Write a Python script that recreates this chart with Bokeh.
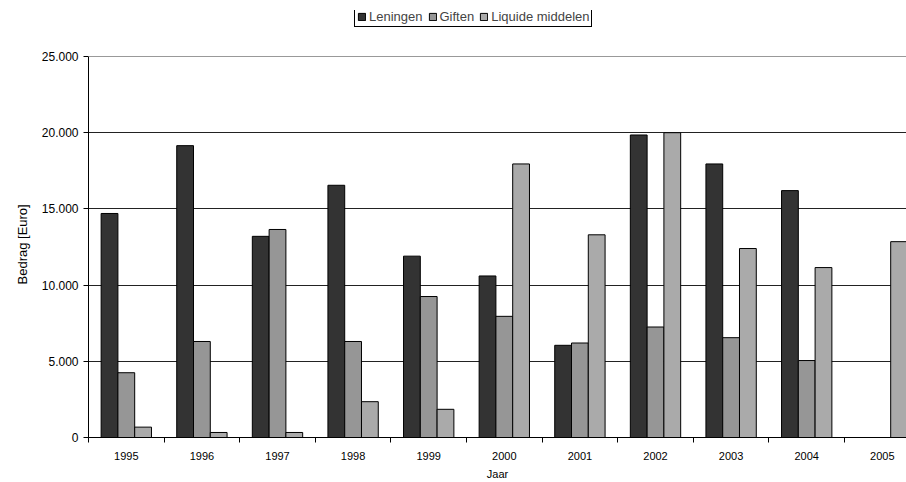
from bokeh.plotting import figure
from bokeh.models import Range1d, FixedTicker, Span, Legend, LegendItem, Title
from bokeh.embed import file_html
from bokeh.resources import INLINE

years = ['1995', '1996', '1997', '1998', '1999', '2000', '2001', '2002', '2003', '2004', '2005']
leningen = [14700, 19150, 13200, 16550, 11900, 10600, 6050, 19850, 17950, 16200, 0]
giften = [4250, 6300, 13650, 6300, 9250, 7950, 6200, 7250, 6550, 5050, 0]
liquide = [680, 330, 330, 2350, 1850, 17950, 13300, 20000, 12400, 11150, 12850]
series_names = ['Leningen', 'Giften', 'Liquide middelen']
y_ticks = [0, 5000, 10000, 15000, 20000, 25000]
y_tick_labels = ['0', '5.000', '10.000', '15.000', '20.000', '25.000']

colors = ['#333333', '#969696', '#aaaaaa']
FONT = 'Liberation Sans'

TOP_PAD = 10          # px above the frame
FRAME_BOTTOM = 437    # px, y of value 0
PLOT_TOP = 56         # px, y of 25.000
y_max = y_ticks[-1]
y_end = y_max * (FRAME_BOTTOM - TOP_PAD) / (FRAME_BOTTOM - PLOT_TOP)

p = figure(width=906, height=482, output_backend="svg", toolbar_location=None,
           x_range=Range1d(-0.5, 10.32), y_range=Range1d(0, y_end),
           min_border_left=88, min_border_right=0, min_border_top=TOP_PAD, min_border_bottom=45)
p.outline_line_color = None
p.background_fill_color = 'white'

idx = list(range(len(years)))
bw = 0.222
renderers = []
for k, (vals, c) in enumerate(zip([leningen, giften, liquide], colors)):
    xs = [i + (k - 1) * bw for i in idx]
    r = p.vbar(x=xs, top=vals, width=bw, fill_color=c, line_color='black', line_width=1)
    renderers.append(r)

# top border of plot area
p.add_layout(Span(location=y_max, dimension='width', line_color='#999999', line_width=1))

# grid
p.xgrid.visible = False
p.ygrid.ticker = FixedTicker(ticks=y_ticks[1:-1])
p.ygrid.grid_line_color = '#222222'
p.ygrid.grid_line_width = 1

# y axis
p.yaxis.bounds = (0, y_max)
p.yaxis.ticker = FixedTicker(ticks=y_ticks)
p.yaxis.major_label_overrides = {t: l for t, l in zip(y_ticks, y_tick_labels)}
p.yaxis.minor_tick_line_color = None
p.yaxis.major_tick_in = 0
p.yaxis.major_tick_out = 5
p.yaxis.axis_line_color = 'black'
p.yaxis.major_tick_line_color = 'black'
p.yaxis.major_label_text_font = FONT
p.yaxis.major_label_text_font_size = '12px'
p.yaxis.major_label_text_color = 'black'
p.yaxis.major_label_standoff = 5

# y axis title, centred on the 0..25.000 part of the axis
ytitle = Title(text='Bedrag [Euro]', align='left', offset=153, standoff=18,
               text_font=FONT, text_font_size='13px', text_font_style='normal',
               text_color='black')
p.add_layout(ytitle, 'left')

# x axis
p.xaxis.ticker = FixedTicker(ticks=idx, minor_ticks=[i + 0.5 for i in range(-1, len(years))])
p.xaxis.major_label_overrides = {i: y for i, y in zip(idx, years)}
p.xaxis.major_tick_line_color = None
p.xaxis.minor_tick_line_color = 'black'
p.xaxis.minor_tick_in = 0
p.xaxis.minor_tick_out = 5
p.xaxis.axis_line_color = 'black'
p.xaxis.major_label_text_font = FONT
p.xaxis.major_label_text_font_size = '11px'
p.xaxis.major_label_text_color = 'black'
p.xaxis.major_label_standoff = 8
p.xaxis.axis_label = 'Jaar'
p.xaxis.axis_label_text_font = FONT
p.xaxis.axis_label_text_font_size = '11px'
p.xaxis.axis_label_text_font_style = 'normal'
p.xaxis.axis_label_text_color = 'black'
p.xaxis.axis_label_standoff = 5

legend = Legend(items=[LegendItem(label=n, renderers=[r]) for n, r in zip(series_names, renderers)],
                orientation='horizontal', location=(266, 410),
                border_line_color='black', border_line_width=1, border_line_alpha=1,
                padding=2, spacing=5, margin=0,
                glyph_width=9, glyph_height=9, label_standoff=3, label_height=13,
                label_text_font=FONT, label_text_font_size='13px',
                background_fill_alpha=1)
p.add_layout(legend, 'center')

open("out.html", "w").write(file_html(p, INLINE))
